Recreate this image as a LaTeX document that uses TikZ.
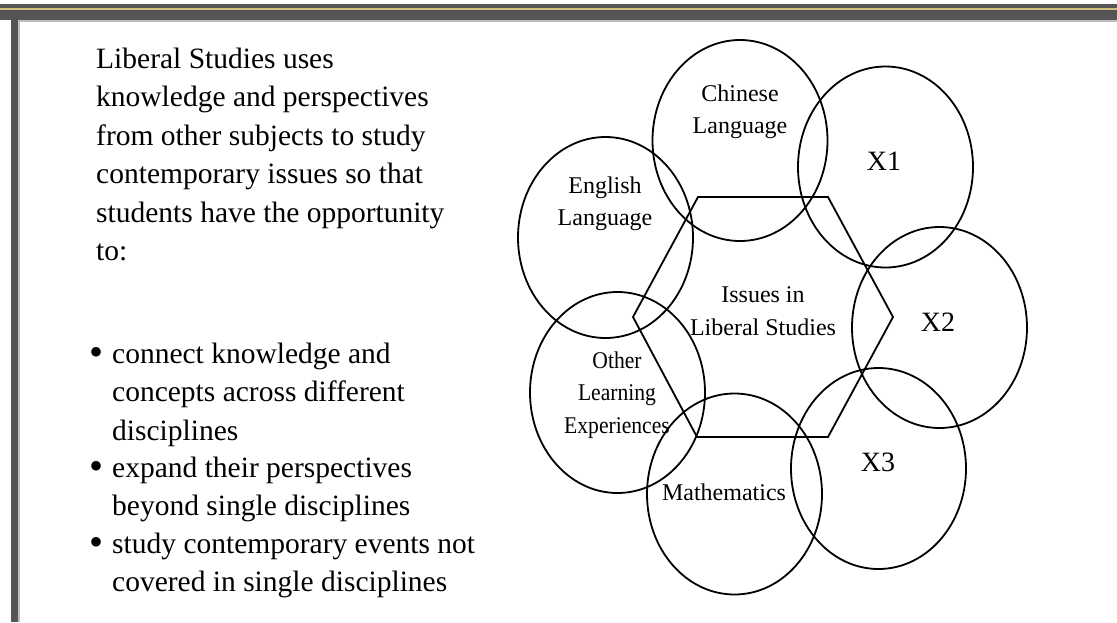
\documentclass[tikz,border=0pt]{standalone}
\usepackage{fontspec}
\setmainfont{Liberation Serif}
\usetikzlibrary{shapes.geometric,positioning}

\definecolor{framegray}{HTML}{555555}
\definecolor{framegold}{HTML}{D2BC7E}
\definecolor{frameedge}{HTML}{BDBDBD}

\tikzset{
  ring/.style={draw, line width=1.8pt, ellipse, minimum width=175pt, minimum height=201pt, inner sep=0pt},
  lbl/.style={font=\fontsize{24}{32.5}\selectfont, align=center, inner sep=0pt},
  xlbl/.style={font=\fontsize{28}{32}\selectfont, inner sep=0pt},
  body/.style={font=\fontsize{29.5}{38.5}\selectfont, align=left, anchor=base west, inner sep=0pt},
  dot/.style={font=\fontsize{40}{40}\selectfont, anchor=center, inner sep=0pt}
}

\begin{document}
\begin{tikzpicture}[x=1pt, y=-1pt]
  \useasboundingbox (0,0) rectangle (1117,622);

  % frame of the slide
  \fill[framegray] (0,4) rectangle (1117,20);
  \fill[framegold] (0,8) rectangle (1117,10);
  \fill[frameedge] (18,20) rectangle (1117,22);
  \fill[framegray] (11,12) rectangle (18,622);
  \fill[frameedge] (18,20) rectangle (20,622);

  % left text (anchored at the last line)
  \node[body] (intro) at (96,260.5) {Liberal Studies uses\\knowledge and perspectives\\from other subjects to study\\contemporary issues so that\\students have the opportunity\\to:};

  \node[body] (item1) at (112,440) {connect knowledge and\\concepts across different\\disciplines};
  \node[body] (item2) at (112,515.5) {expand their perspectives\\beyond single disciplines};
  \node[body] (item3) at (112,591.5) {study contemporary events not\\covered in single disciplines};
  \node[dot] (b1) at (97,356) {\textbullet};
  \node[dot] (b2) at (97,470) {\textbullet};
  \node[dot] (b3) at (97,546) {\textbullet};

  % circles round the centre
  \node[ring] (chi) at (740,140.5) {};
  \node[ring] (xone) at (885.5,167) {};
  \node[ring] (eng) at (605.5,237.5) {};
  \node[ring] (xtwo) at (939.5,327.5) {};
  \node[ring] (ole) at (617.5,392.5) {};
  \node[ring] (xthree) at (878.5,468.5) {};
  \node[ring] (math) at (734.5,494) {};

  % hexagon
  \coordinate (h1) at (698,197);
  \coordinate (h2) at (828,197);
  \coordinate (h3) at (893,317);
  \coordinate (h4) at (828,437);
  \coordinate (h5) at (697,437);
  \coordinate (h6) at (633,317);
  \draw[line width=1.8pt, line join=miter] (h1) -- (h2) -- (h3) -- (h4) -- (h5) -- (h6) -- cycle;

  % labels
  \node[lbl] (chit) at (740,112) {Chinese\\Language};
  \node[lbl] (engt) at (605,204) {English\\Language};
  \node[lbl] (isst) at (763,311) {Issues in\\Liberal Studies};
  \node[lbl] (olet) at (617,395) {\scalebox{0.9}[1]{Other}\\\scalebox{0.9}[1]{Learning}\\\scalebox{0.9}[1]{Experiences}};
  \node[lbl] (matht) at (724,492) {Mathematics};
  \node[xlbl] (xonet) at (884,161) {X1};
  \node[xlbl] (xtwot) at (938,322) {X2};
  \node[xlbl] (xthreet) at (878,462) {X3};
\end{tikzpicture}
\end{document}
